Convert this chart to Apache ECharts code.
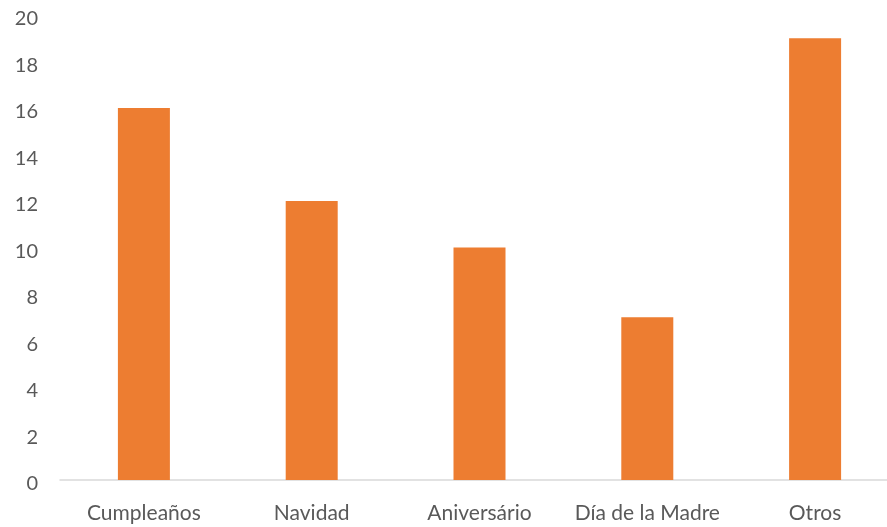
<!DOCTYPE html>
<html>
<head>
<meta charset="utf-8">
<script src="https://cdn.jsdelivr.net/npm/echarts@6/dist/echarts.min.js"></script>
<style>
  html, body { margin: 0; padding: 0; background: #ffffff; }
  #chart { width: 887px; height: 527px; }
</style>
</head>
<body>
<div id="chart"></div>
<script>
// Occasions and counts
const categories = ['Cumpleaños', 'Navidad', 'Aniversário', 'Día de la Madre', 'Otros'];
const values = [16, 12, 10, 7, 19];
const yTicks = { min: 0, max: 20, interval: 2 };

const chart = echarts.init(document.getElementById('chart'), null, { renderer: 'canvas' });
const textColor = '#595959';
const fontFamily = 'Lato, "Open Sans", sans-serif';

chart.setOption({
  animation: false,
  backgroundColor: '#ffffff',
  // plot area runs slightly past the right edge of the canvas
  grid: { left: 60, top: 15, right: -12, bottom: 47, containLabel: false, outerBoundsMode: 'none' },
  xAxis: {
    type: 'category',
    data: categories,
    axisLine: { lineStyle: { color: '#d9d9d9', width: 1.5 } },
    axisTick: { show: false },
    axisLabel: { interval: 0, color: textColor, fontSize: 21, fontFamily: fontFamily, margin: 23 }
  },
  yAxis: {
    type: 'value',
    min: yTicks.min,
    max: yTicks.max,
    interval: yTicks.interval,
    axisLine: { show: false },
    axisTick: { show: false },
    splitLine: { show: false },
    axisLabel: {
      margin: 22,
      formatter: '{n|{value}}',
      // tick numbers sit a few pixels below their gridline position
      rich: { n: { color: textColor, fontSize: 20, fontFamily: fontFamily, padding: [8, 0, 0, 0] } }
    }
  },
  series: [{
    type: 'bar',
    data: values,
    barWidth: 52,
    itemStyle: { color: '#ED7D31' }
  }]
});
</script>
</body>
</html>
